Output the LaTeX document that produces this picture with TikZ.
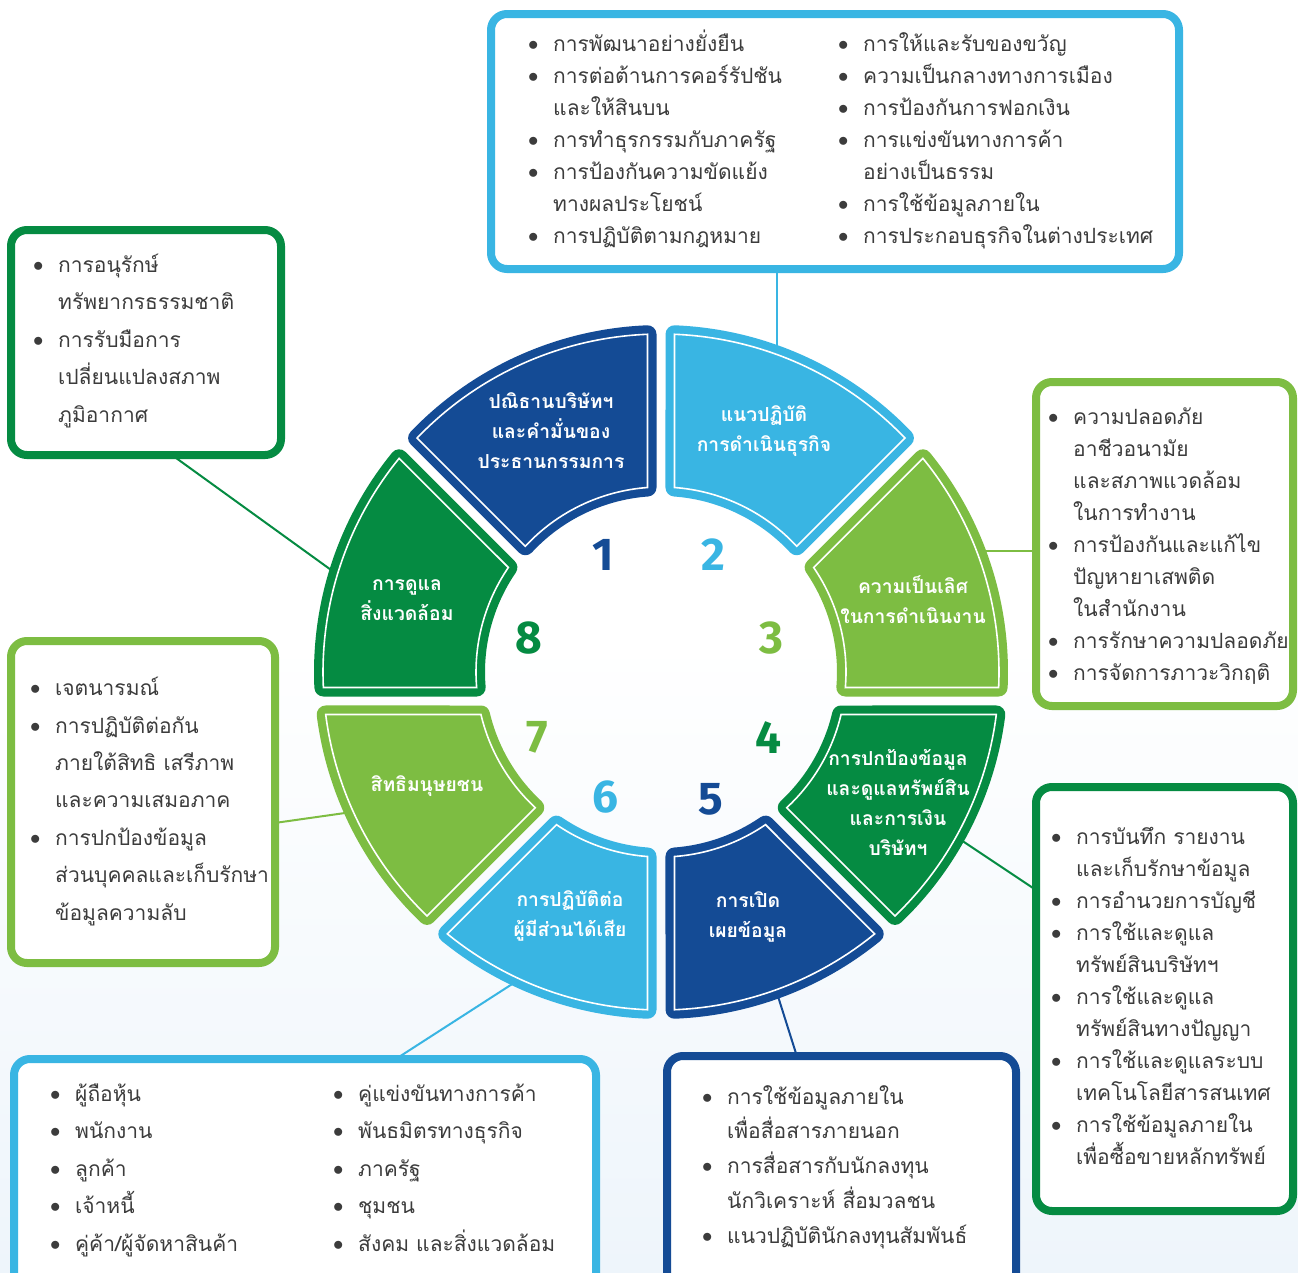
\documentclass[tikz,border=0pt]{standalone}
\usepackage{fontspec}
\setmainfont{Fira Sans}
\newfontfamily\thaifont[Script=Thai]{Loma}
\usetikzlibrary{calc}
\definecolor{dblue}{RGB}{20,75,149}
\definecolor{lblue}{RGB}{57,181,227}
\definecolor{lgreen}{RGB}{125,189,66}
\definecolor{dgreen}{RGB}{5,139,66}
\definecolor{txtgray}{RGB}{60,60,60}
\definecolor{bgblue}{RGB}{238,245,251}
\newcommand{\bl}{\makebox[25pt][l]{\raisebox{1pt}{$\bullet$}}}
\newcommand{\nb}{\hspace*{25pt}}
\tikzset{
  seg/.style={fill=#1, draw=#1, line width=18pt, line join=round},
  segline/.style={draw=white, line width=1.6pt, line join=miter},
  box/.style={rectangle, draw=#1, line width=8pt, fill=white, rounded corners=16pt, inner sep=0pt, outer sep=0pt},
  conn/.style={draw=#1, line width=2pt},
  btext/.style={text=txtgray, font=\thaifont\fontsize{21pt}{#1}\selectfont, align=left, inner sep=0pt, anchor=base west},
  btext/.default=32pt,
  slabel/.style={text=white, font=\thaifont\bfseries\fontsize{19.3pt}{30pt}\selectfont, align=center, inner sep=0pt},
  num/.style={font=\bfseries\fontsize{46pt}{46pt}\selectfont, text=#1, inner sep=0pt},
}
\newcommand{\ringseg}[5]{%
  \path[seg=#1] (#2:338) arc[start angle=#2,end angle=#3,radius=338] -- (#4:185) arc[start angle=#4,end angle=#5,radius=185] -- cycle;
  \draw[segline] (#2:338) arc[start angle=#2,end angle=#3,radius=338] -- (#4:185) arc[start angle=#4,end angle=#5,radius=185] -- cycle;}
\begin{document}
\begin{tikzpicture}[x=1pt,y=-1pt]
\useasboundingbox (0,0) rectangle (1298,1272);
\clip (0,0) rectangle (1298,1272);
\fill[white] (0,0) rectangle (1298,1272);
\shade[top color=white, bottom color=bgblue] (0,640) rectangle (1298,1272);

% boxes
\node[box=lblue, minimum width=688pt, minimum height=255pt] (b2) at (835,141.5) {};
\node[box=dgreen, minimum width=270pt, minimum height=225pt] (b8) at (146,342.5) {};
\node[box=lgreen, minimum width=257pt, minimum height=324pt] (b3) at (1164.5,544) {};
\node[box=lgreen, minimum width=264pt, minimum height=322pt] (b7) at (143,802) {};
\node[box=dgreen, minimum width=257pt, minimum height=424pt] (b4) at (1164.5,999) {};
\node[box=lblue, minimum width=582pt, minimum height=231pt] (b6) at (305,1174.5) {};
\node[box=dblue, minimum width=349pt, minimum height=234pt] (b5) at (841.5,1173) {};

% connectors
\coordinate (c2) at (777,360);
\draw[conn=lblue] (c2) -- (c2 |- b2.south);
\coordinate (c8) at (345,580);
\draw[conn=dgreen] ($(b8.south west)!0.596!(b8.south east)$) -- (c8);
\coordinate (c3) at (975,551);
\draw[conn=lgreen] (c3) -- (c3 -| b3.west);
\coordinate (c7) at (352,812);
\draw[conn=lgreen] ($(b7.north east)!0.565!(b7.south east)$) -- (c7);
\coordinate (c4) at (955,836);
\draw[conn=dgreen] (c4) -- ($(b4.north west)!0.243!(b4.south west)$);
\coordinate (c6) at (520,979);
\draw[conn=lblue] (c6) -- ($(b6.north west)!0.656!(b6.north east)$);
\coordinate (c5) at (776,990);
\draw[conn=dblue] (c5) -- ($(b5.north west)!0.372!(b5.north east)$);

% ring segments
\coordinate (O) at (661,672);
\begin{scope}[shift={(661,672)}]
\ringseg{dblue}{267.71}{223.81}{222.83}{265.82}
\ringseg{lblue}{-87.71}{-43.81}{-42.83}{-85.82}
\ringseg{lgreen}{-39.22}{2.63}{4.81}{-34.40}
\ringseg{dgreen}{7.22}{46.19}{47.17}{13.28}
\ringseg{dblue}{50.78}{87.71}{85.82}{55.60}
\ringseg{lblue}{129.22}{92.29}{94.18}{124.40}
\ringseg{lgreen}{172.78}{133.81}{132.83}{166.72}
\ringseg{dgreen}{219.22}{177.37}{175.19}{214.40}
\end{scope}

% segment labels
\node[slabel] (t1) at (551,431) {ปณิธานบริษัทฯ\\และคำมั่นของ\\ประธานกรรมการ};
\node[slabel] (t2) at (764,431) {แนวปฏิบัติ\\การดำเนินธุรกิจ};
\node[slabel] (t3) at (913,600) {ความเป็นเลิศ\\ในการดำเนินงาน};
\node[slabel] (t4) at (898,802) {การปกป้องข้อมูล\\และดูแลทรัพย์สิน\\และการเงิน\\บริษัทฯ};
\node[slabel] (t5) at (748,917) {การเปิด\\เผยข้อมูล};
\node[slabel] (t6) at (570,916) {การปฏิบัติต่อ\\ผู้มีส่วนได้เสีย};
\node[slabel] (t7) at (427,786) {สิทธิมนุษยชน};
\node[slabel] (t8) at (407,600) {การดูแล\\สิ่งแวดล้อม};

% numbers
\node[num=dblue] (n1) at (603,555) {1};
\node[num=lblue] (n2) at (713,555) {2};
\node[num=lgreen] (n3) at (771,638) {3};
\node[num=dgreen] (n4) at (768,738) {4};
\node[num=dblue] (n5) at (711,799) {5};
\node[num=lblue] (n6) at (605,797) {6};
\node[num=lgreen] (n7) at (537,737) {7};
\node[num=dgreen] (n8) at (529,638) {8};

% box texts (anchored at the baseline of the last line)
\node[btext] (x2a) at (528,243) {\bl การพัฒนาอย่างยั่งยืน\\ \bl การต่อต้านการคอร์รัปชัน\\ \nb และให้สินบน\\ \bl การทำธุรกรรมกับภาครัฐ\\ \bl การป้องกันความขัดแย้ง\\ \nb ทางผลประโยชน์\\ \bl การปฏิบัติตามกฎหมาย};
\node[btext] (x2b) at (838,243) {\bl การให้และรับของขวัญ\\ \bl ความเป็นกลางทางการเมือง\\ \bl การป้องกันการฟอกเงิน\\ \bl การแข่งขันทางการค้า\\ \nb อย่างเป็นธรรม\\ \bl การใช้ข้อมูลภายใน\\ \bl การประกอบธุรกิจในต่างประเทศ};
\node[btext=37.5pt] (x8) at (33,422) {\bl การอนุรักษ์\\ \nb ทรัพยากรธรรมชาติ\\ \bl การรับมือการ\\ \nb เปลี่ยนแปลงสภาพ\\ \nb ภูมิอากาศ};
\node[btext] (x3) at (1048,680) {\bl ความปลอดภัย\\ \nb อาชีวอนามัย\\ \nb และสภาพแวดล้อม\\ \nb ในการทำงาน\\ \bl การป้องกันและแก้ไข\\ \nb ปัญหายาเสพติด\\ \nb ในสำนักงาน\\ \bl การรักษาความปลอดภัย\\ \bl การจัดการภาวะวิกฤติ};
\node[btext=37.4pt] (x7) at (30,920) {\bl เจตนารมณ์\\ \bl การปฏิบัติต่อกัน\\ \nb ภายใต้สิทธิ เสรีภาพ\\ \nb และความเสมอภาค\\ \bl การปกป้องข้อมูล\\ \nb ส่วนบุคคลและเก็บรักษา\\ \nb ข้อมูลความลับ};
\node[btext] (x4) at (1051,1164) {\bl การบันทึก รายงาน\\ \nb และเก็บรักษาข้อมูล\\ \bl การอำนวยการบัญชี\\ \bl การใช้และดูแล\\ \nb ทรัพย์สินบริษัทฯ\\ \bl การใช้และดูแล\\ \nb ทรัพย์สินทางปัญญา\\ \bl การใช้และดูแลระบบ\\ \nb เทคโนโลยีสารสนเทศ\\ \bl การใช้ข้อมูลภายใน\\ \nb เพื่อซื้อขายหลักทรัพย์};
\node[btext=37.5pt] (x6a) at (50,1251) {\bl ผู้ถือหุ้น\\ \bl พนักงาน\\ \bl ลูกค้า\\ \bl เจ้าหนี้\\ \bl คู่ค้า/ผู้จัดหาสินค้า};
\node[btext=37.5pt] (x6b) at (333,1251) {\bl คู่แข่งขันทางการค้า\\ \bl พันธมิตรทางธุรกิจ\\ \bl ภาครัฐ\\ \bl ชุมชน\\ \bl สังคม และสิ่งแวดล้อม};
\node[btext=34.7pt] (x5) at (702,1243) {\bl การใช้ข้อมูลภายใน\\ \nb เพื่อสื่อสารภายนอก\\ \bl การสื่อสารกับนักลงทุน\\ \nb นักวิเคราะห์ สื่อมวลชน\\ \bl แนวปฏิบัตินักลงทุนสัมพันธ์};
\end{tikzpicture}
\end{document}
